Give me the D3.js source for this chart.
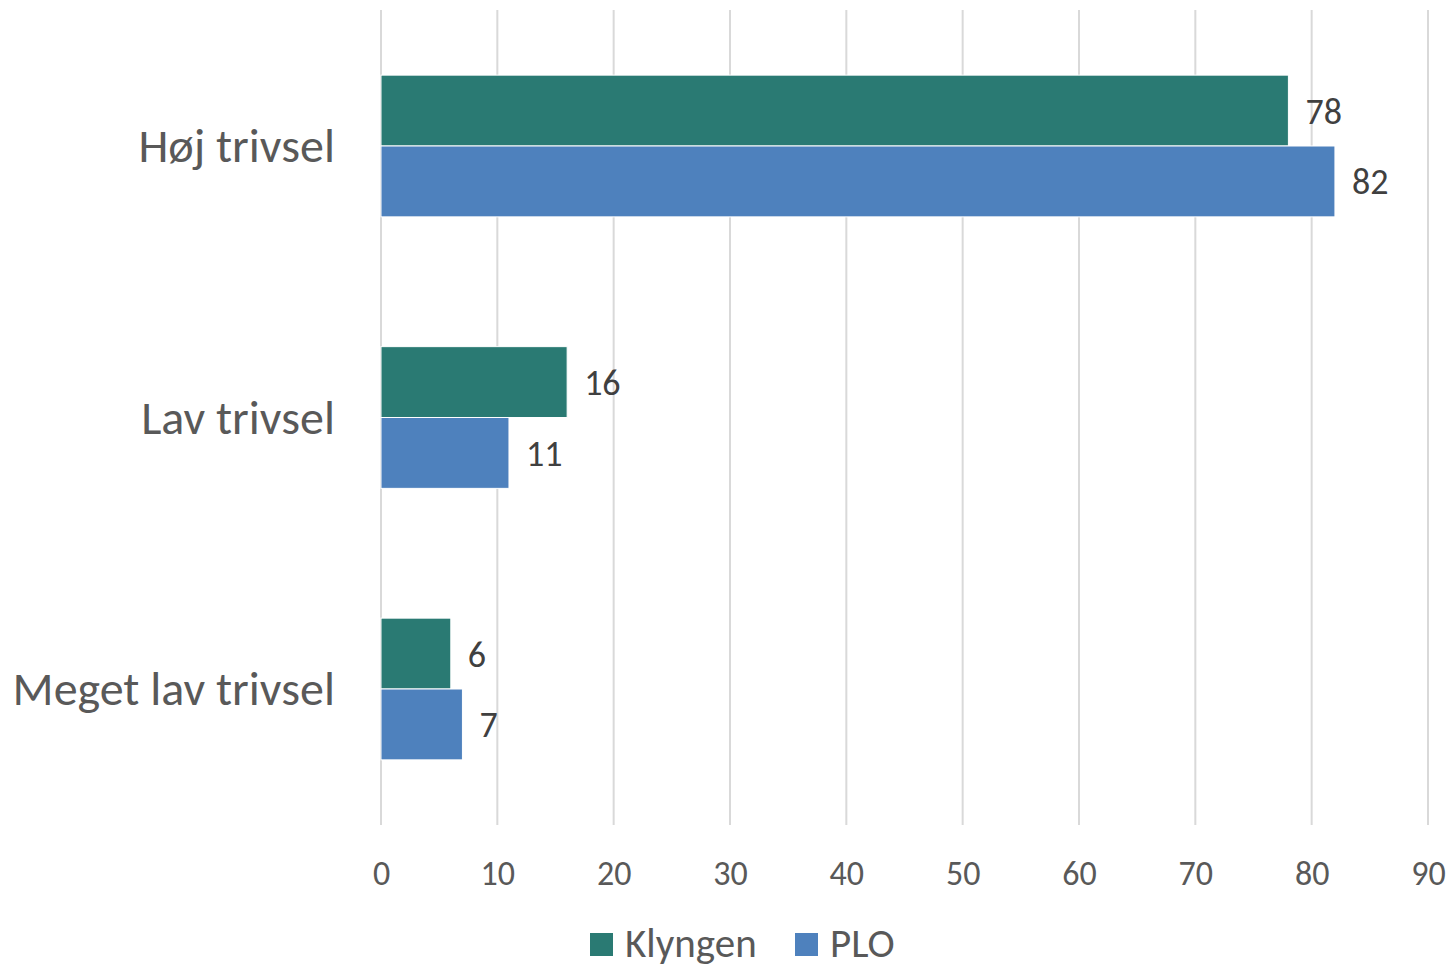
<!DOCTYPE html>
<html><head><meta charset="utf-8">
<script src="https://cdn.jsdelivr.net/npm/d3@7"></script>
<style>body{margin:0;background:#fff}svg{display:block}text{font-family:Carlito,Lato,sans-serif}</style>
</head><body>
<svg id="c" width="1451" height="964"></svg>
<script>
const categories = ["Høj trivsel", "Lav trivsel", "Meget lav trivsel"];
const seriesNames = ["Klyngen", "PLO"];
const klyngen = [78, 16, 6];
const plo = [82, 11, 7];
const tickValues = [0, 10, 20, 30, 40, 50, 60, 70, 80, 90];
const colors = ["#2a7a73", "#4e81bd"];

const svg = d3.select("#c");
const x = d3.scaleLinear().domain([0, 90]).range([381, 1428]);
const y = d3.scaleBand().domain(categories).range([10.25, 824.75]).paddingInner(0.478).paddingOuter(0.239);
const sub = d3.scaleBand().domain(seriesNames).range([0, y.bandwidth()]);

// gridlines
svg.append("g").selectAll("line").data(tickValues).join("line")
  .attr("x1", d => x(d)).attr("x2", d => x(d))
  .attr("y1", 10).attr("y2", 825)
  .attr("stroke", "#d9d9d9").attr("stroke-width", 2);

// x axis labels
const xAxis = d3.axisBottom(x).tickValues(tickValues).tickSize(0).tickPadding(0);
const ax = svg.append("g").attr("transform", "translate(0,861)").call(xAxis);
ax.select(".domain").remove();
ax.selectAll("text").attr("font-size", 34).attr("fill", "#595959")
  .attr("dy", "0.71em").style("font-family", "Carlito,Lato,sans-serif");

// y axis labels
const yAxis = d3.axisLeft(y).tickSize(0).tickPadding(0);
const ay = svg.append("g").attr("transform", "translate(335,0)").call(yAxis);
ay.select(".domain").remove();
ay.selectAll("text").attr("font-size", 48).attr("fill", "#595959")
  .attr("dy", "0.34em").style("font-family", "Carlito,Lato,sans-serif");

const data = [];
categories.forEach((c, i) => {
  data.push({cat: c, s: seriesNames[0], v: klyngen[i], col: colors[0]});
  data.push({cat: c, s: seriesNames[1], v: plo[i], col: colors[1]});
});

svg.append("g").selectAll("rect").data(data).join("rect")
  .attr("x", x(0)).attr("y", d => y(d.cat) + sub(d.s))
  .attr("width", d => x(d.v) - x(0)).attr("height", sub.bandwidth())
  .attr("fill", d => d.col).attr("stroke", "#ffffff").attr("stroke-width", 1);

svg.append("g").selectAll("text").data(data).join("text")
  .attr("x", d => x(d.v) + 17).attr("y", d => y(d.cat) + sub(d.s) + sub.bandwidth() / 2)
  .attr("dy", "0.36em").attr("font-size", 36).attr("fill", "#404040")
  .text(d => d.v);

// legend
const lg = svg.append("g");
const legX = [590, 795];
seriesNames.forEach((s, i) => {
  lg.append("rect").attr("x", legX[i]).attr("y", 933).attr("width", 23).attr("height", 23).attr("fill", colors[i]);
  lg.append("text").attr("x", legX[i] + 35).attr("y", 957).attr("font-size", 41).attr("fill", "#595959").text(s);
});
</script>
</body></html>
